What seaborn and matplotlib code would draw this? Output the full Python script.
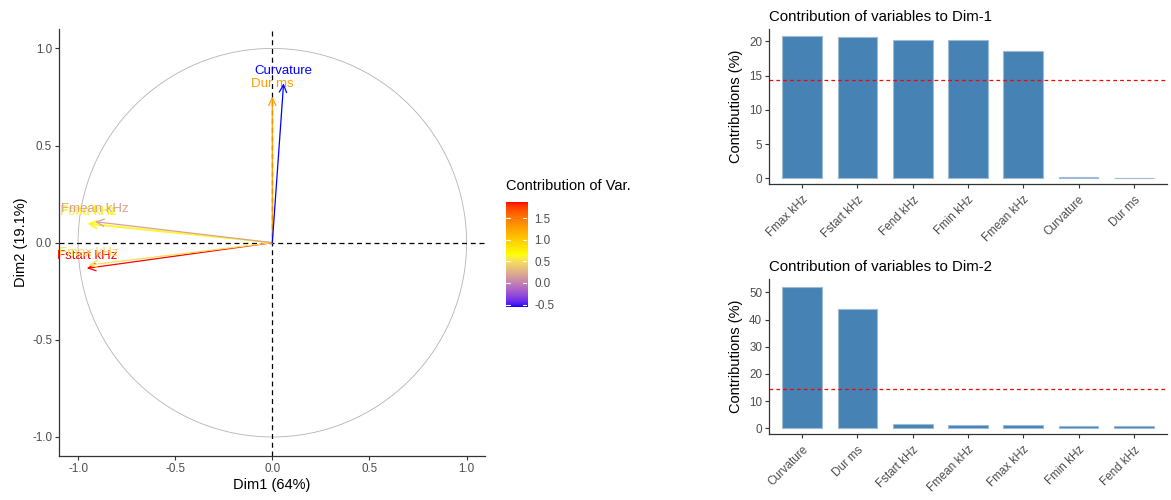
import numpy as np
import pandas as pd
import matplotlib
matplotlib.use("Agg")
import matplotlib.pyplot as plt
from matplotlib.colors import ListedColormap, Normalize
from matplotlib.patches import Circle
import seaborn as sns

# ---- data -------------------------------------------------------------
var_names = ["Fstart kHz", "Fend kHz", "Fmin kHz", "Fmax kHz", "Fmean kHz", "Dur ms", "Curvature"]
dim1_coord = [-0.955, -0.947, -0.950, -0.945, -0.912, 0.000, 0.058]
dim2_coord = [-0.132, 0.095, 0.100, -0.115, 0.108, 0.752, 0.820]
var_colour_value = [1.88, 0.58, 0.64, 0.50, 0.18, 1.30, -0.55]

dim1_pct = 64
dim2_pct = 19.1

contrib1_names = ["Fmax kHz", "Fstart kHz", "Fend kHz", "Fmin kHz", "Fmean kHz", "Curvature", "Dur ms"]
contrib1_values = [20.77, 20.63, 20.19, 20.19, 18.58, 0.22, 0.06]

contrib2_names = ["Curvature", "Dur ms", "Fstart kHz", "Fmean kHz", "Fmax kHz", "Fmin kHz", "Fend kHz"]
contrib2_values = [52.1, 43.9, 1.5, 1.2, 1.1, 0.8, 0.7]

expected_contrib = 100 / 7

colorbar_ticks = [-0.5, 0.0, 0.5, 1.0, 1.5]

# ---- style ------------------------------------------------------------
sns.set_theme(style="ticks")
plt.rcParams["font.family"] = ["Liberation Sans", "DejaVu Sans"]
TICK_GREY = "#4D4D4D"
STEEL = "#4682B4"


# blue -> yellow -> red gradient interpolated in CIELAB
def _srgb_to_lab(rgb):
    rgb = np.asarray(rgb, float)
    lin = np.where(rgb <= 0.04045, rgb / 12.92, ((rgb + 0.055) / 1.055) ** 2.4)
    m = np.array([[0.4124, 0.3576, 0.1805],
                  [0.2126, 0.7152, 0.0722],
                  [0.0193, 0.1192, 0.9505]])
    xyz = m @ lin / np.array([0.95047, 1.0, 1.08883])
    f = np.where(xyz > 0.008856, np.cbrt(xyz), 7.787 * xyz + 16 / 116)
    return np.array([116 * f[1] - 16, 500 * (f[0] - f[1]), 200 * (f[1] - f[2])])


def _lab_to_srgb(lab):
    L, a, b = lab
    fy = (L + 16) / 116
    fx = fy + a / 500
    fz = fy - b / 200
    f = np.array([fx, fy, fz])
    xyz = np.where(f ** 3 > 0.008856, f ** 3, (f - 16 / 116) / 7.787)
    xyz = xyz * np.array([0.95047, 1.0, 1.08883])
    minv = np.array([[3.2406, -1.5372, -0.4986],
                     [-0.9689, 1.8758, 0.0415],
                     [0.0557, -0.2040, 1.0570]])
    lin = minv @ xyz
    lin = np.clip(lin, 0, 1)
    rgb = np.where(lin <= 0.0031308, 12.92 * lin, 1.055 * lin ** (1 / 2.4) - 0.055)
    return np.clip(rgb, 0, 1)


def lab_gradient(colors, n=256):
    labs = [_srgb_to_lab(c) for c in colors]
    out = []
    for t in np.linspace(0, 1, n):
        pos = t * (len(labs) - 1)
        i = min(int(pos), len(labs) - 2)
        w = pos - i
        out.append(_lab_to_srgb((1 - w) * labs[i] + w * labs[i + 1]))
    return ListedColormap(out)


cmap = lab_gradient([(0, 0, 1), (1, 1, 0), (1, 0, 0)])
norm = Normalize(vmin=min(var_colour_value), vmax=max(var_colour_value))

fig = plt.figure(figsize=(11.71, 5.0), dpi=100)

# ---- variable correlation circle ----------------------------------------
ax = fig.add_axes([0.0504, 0.088, 0.3638, 0.854])
ax.add_patch(Circle((0, 0), 1.0, fill=False, edgecolor="#B3B3B3", lw=0.6))
ax.axhline(0, color="black", ls=(0, (4, 3)), lw=0.9)
ax.axvline(0, color="black", ls=(0, (4, 3)), lw=0.9)

for name, x, y, v in zip(var_names, dim1_coord, dim2_coord, var_colour_value):
    col = cmap(norm(v))
    ax.annotate("", xy=(x, y), xytext=(0, 0),
                arrowprops=dict(arrowstyle="->,head_length=0.45,head_width=0.22",
                                color=col, lw=0.9, shrinkA=0, shrinkB=0))
    ax.annotate(name, xy=(x, y), xytext=(0, 9), textcoords="offset points",
                ha="center", va="center", fontsize=9.5, color=col)

ax.set_xlim(-1.098, 1.095)
ax.set_ylim(-1.098, 1.10)
ax.set_xticks([-1.0, -0.5, 0.0, 0.5, 1.0])
ax.set_yticks([-1.0, -0.5, 0.0, 0.5, 1.0])
ax.set_xticklabels([f"{t:.1f}" for t in ax.get_xticks()])
ax.set_yticklabels([f"{t:.1f}" for t in ax.get_yticks()])
ax.set_xlabel(f"Dim1 ({dim1_pct}%)", fontsize=10.5, color="black", labelpad=2)
ax.set_ylabel(f"Dim2 ({dim2_pct}%)", fontsize=10.5, color="black", labelpad=3)
sns.despine(ax=ax)
for s in ("left", "bottom"):
    ax.spines[s].set_color("#333333")
    ax.spines[s].set_linewidth(0.9)
ax.tick_params(labelsize=8.4, labelcolor=TICK_GREY, color="#333333", length=3, width=0.8, pad=2)

# ---- colour legend ------------------------------------------------------
cax = fig.add_axes([0.4321, 0.3866, 0.018, 0.21])
grad = np.linspace(norm.vmin, norm.vmax, 256).reshape(-1, 1)
cax.imshow(grad, aspect="auto", cmap=cmap, norm=norm, origin="lower",
           extent=[0, 1, norm.vmin, norm.vmax])
for t in colorbar_ticks:
    cax.plot([0, 0.2], [t, t], color="white", lw=0.8)
    cax.plot([0.8, 1.0], [t, t], color="white", lw=0.8)
cax.set_xlim(0, 1)
cax.set_ylim(norm.vmin, norm.vmax)
cax.set_xticks([])
cax.yaxis.tick_right()
cax.set_yticks(colorbar_ticks)
cax.set_yticklabels([f"{t:.1f}" for t in colorbar_ticks])
cax.tick_params(axis="y", length=0, labelsize=8.4, labelcolor=TICK_GREY, pad=5)
for s in cax.spines.values():
    s.set_visible(False)
fig.text(0.4321, 0.627, "Contribution of Var.", fontsize=10.5, color="black",
         ha="left", va="center")


# ---- contribution bar charts --------------------------------------------
def contrib_panel(rect, names, values, title, ylim, yticks):
    bx = fig.add_axes(rect)
    df = pd.DataFrame({"variable": names, "contribution": values})
    sns.barplot(data=df, x="variable", y="contribution", order=names,
                color=STEEL, saturation=1, width=0.72,
                edgecolor="#9DBAD6", linewidth=0.8, ax=bx)
    bx.axhline(expected_contrib, color="red", ls=(0, (3, 2.5)), lw=0.9)
    bx.set_xlim(-0.6, len(names) - 0.4)
    bx.set_ylim(*ylim)
    bx.set_yticks(yticks)
    bx.set_xlabel("")
    bx.set_ylabel("Contributions (%)", fontsize=10.5, color="black", labelpad=4)
    bx.set_title(title, loc="left", fontsize=10.8, color="black", pad=6)
    bx.set_xticks(range(len(names)))
    bx.set_xticklabels(names, rotation=45, ha="right", rotation_mode="anchor")
    sns.despine(ax=bx)
    for s in ("left", "bottom"):
        bx.spines[s].set_color("#333333")
        bx.spines[s].set_linewidth(0.9)
    bx.tick_params(labelsize=8.4, labelcolor=TICK_GREY, color="#333333", length=3, width=0.8, pad=2)
    bx.tick_params(axis="x", pad=4)
    return bx


contrib_panel([0.6567, 0.632, 0.3399, 0.31], contrib1_names, contrib1_values,
              "Contribution of variables to Dim-1", (-0.83, 21.8), [0, 5, 10, 15, 20])
contrib_panel([0.6567, 0.132, 0.3399, 0.31], contrib2_names, contrib2_values,
              "Contribution of variables to Dim-2", (-2.1, 54.9), [0, 10, 20, 30, 40, 50])

fig.savefig("out.png", dpi=100, facecolor="white")
